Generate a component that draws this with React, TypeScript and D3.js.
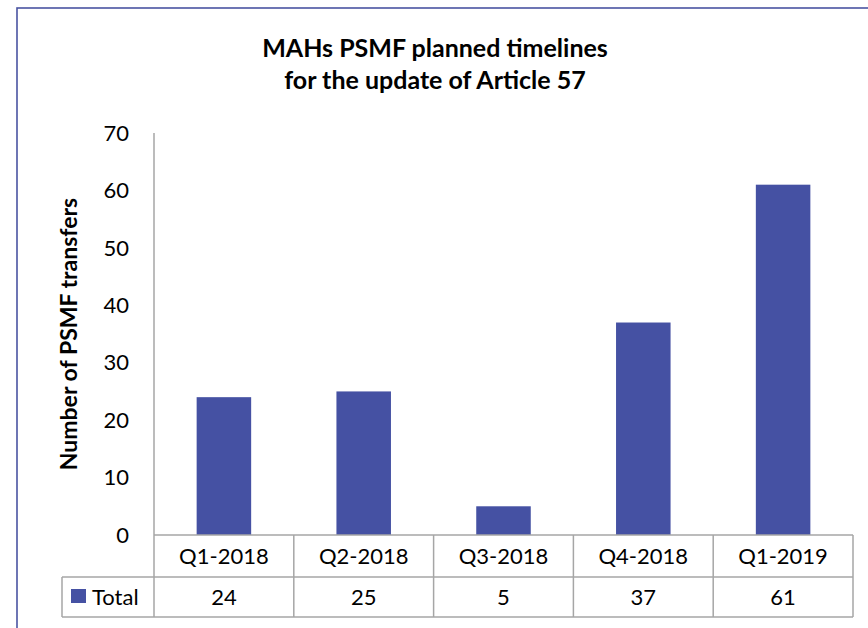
import * as d3 from 'd3'

const categories = ['Q1-2018', 'Q2-2018', 'Q3-2018', 'Q4-2018', 'Q1-2019']
const totals = [24, 25, 5, 37, 61]
const yTicks = [0, 10, 20, 30, 40, 50, 60, 70]
const seriesName = 'Total'

const WIDTH = 868
const HEIGHT = 628
const PLOT = { LEFT: 154, RIGHT: 853, TOP: 133, BOTTOM: 535 }
const ROW1 = 577
const ROW2 = 617
const TABLE_LEFT = 62
const BAR_COLOR = '#4551a3'
const GRID = '#a6a6a6'
const FONT = 'Lato, "Open Sans", sans-serif'

const x = d3.scaleBand()
  .domain(categories)
  .range([PLOT.LEFT, PLOT.RIGHT])
  .paddingInner(0)
  .paddingOuter(0)

const y = d3.scaleLinear()
  .domain([0, 70])
  .range([PLOT.BOTTOM, PLOT.TOP])

const barW = x.bandwidth() * 0.39

export default function App() {
  return (
    <svg width={WIDTH} height={HEIGHT} style={{ position: 'absolute', left: 0, top: 0, background: '#fff' }}
      fontFamily={FONT}>
      {/* outer chart border, cut off at right/bottom */}
      <rect x={17} y={8} width={1000} height={1000} fill="#fff" stroke="#4a54a2" strokeWidth={1.6} />

      <text x={435} y={57} textAnchor="middle" fontSize={25} fontWeight="bold" fill="#000">
        MAHs PSMF planned timelines
      </text>
      <text x={435} y={89} textAnchor="middle" fontSize={25} fontWeight="bold" fill="#000">
        for the update of Article 57
      </text>

      <text transform={`translate(77,${(PLOT.TOP + PLOT.BOTTOM) / 2}) rotate(-90)`} textAnchor="middle"
        fontSize={23} fontWeight="bold" fill="#000">
        Number of PSMF transfers
      </text>

      {yTicks.map(t => (
        <text key={t} x={129} y={y(t)} dy="0.35em" textAnchor="end" fontSize={22} fill="#000">{t}</text>
      ))}

      {categories.map((c, i) => (
        <rect key={c} x={(x(c) as number) + (x.bandwidth() - barW) / 2} y={y(totals[i])}
          width={barW} height={y(0) - y(totals[i])} fill={BAR_COLOR} />
      ))}

      {/* y axis */}
      <line x1={PLOT.LEFT} x2={PLOT.LEFT} y1={PLOT.TOP} y2={ROW2} stroke={GRID} strokeWidth={1.5} />

      {/* data table */}
      <g stroke={GRID} strokeWidth={1.5}>
        <line x1={PLOT.LEFT} x2={PLOT.RIGHT} y1={PLOT.BOTTOM} y2={PLOT.BOTTOM} />
        <line x1={TABLE_LEFT} x2={PLOT.RIGHT} y1={ROW1} y2={ROW1} />
        <line x1={TABLE_LEFT} x2={PLOT.RIGHT} y1={ROW2} y2={ROW2} />
        <line x1={TABLE_LEFT} x2={TABLE_LEFT} y1={ROW1} y2={ROW2} />
        {categories.map(c => (
          <line key={c} x1={(x(c) as number) + x.bandwidth()} x2={(x(c) as number) + x.bandwidth()}
            y1={PLOT.BOTTOM} y2={ROW2} />
        ))}
      </g>
      {categories.map((c, i) => (
        <g key={c}>
          <text x={(x(c) as number) + x.bandwidth() / 2} y={(PLOT.BOTTOM + ROW1) / 2} dy="0.36em"
            textAnchor="middle" fontSize={22} fill="#000">{c}</text>
          <text x={(x(c) as number) + x.bandwidth() / 2} y={(ROW1 + ROW2) / 2} dy="0.36em"
            textAnchor="middle" fontSize={22} fill="#000">{totals[i]}</text>
        </g>
      ))}
      <rect x={71} y={589} width={15} height={14} fill={BAR_COLOR} />
      <text x={92} y={(ROW1 + ROW2) / 2} dy="0.36em" fontSize={22} fill="#000">{seriesName}</text>
    </svg>
  )
}
